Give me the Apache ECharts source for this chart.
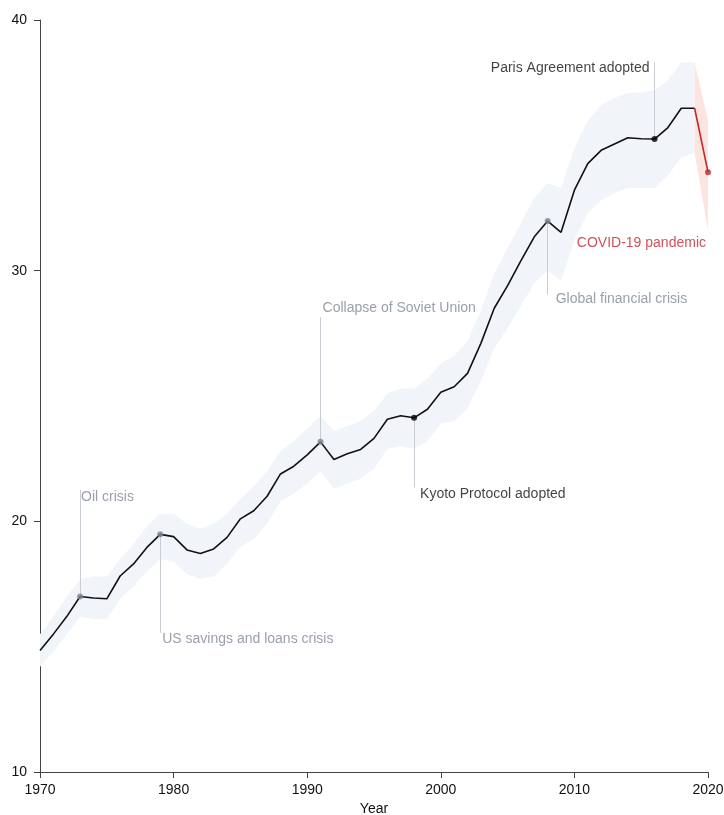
<!DOCTYPE html>
<html>
<head>
<meta charset="utf-8">
<script src="https://cdn.jsdelivr.net/npm/echarts@6/dist/echarts.min.js"></script>
<style>
  html, body { margin: 0; padding: 0; background: #fff; }
  #chart { width: 724px; height: 815px; }
</style>
</head>
<body>
<div id="chart"></div>
<script>
// years on the x axis
const years = [1970, 1971, 1972, 1973, 1974, 1975, 1976, 1977, 1978, 1979,
  1980, 1981, 1982, 1983, 1984, 1985, 1986, 1987, 1988, 1989,
  1990, 1991, 1992, 1993, 1994, 1995, 1996, 1997, 1998, 1999,
  2000, 2001, 2002, 2003, 2004, 2005, 2006, 2007, 2008, 2009,
  2010, 2011, 2012, 2013, 2014, 2015, 2016, 2017, 2018, 2019];
// central estimate
const emissions = [14.85, 15.5, 16.2, 17.0, 16.94, 16.91, 17.82, 18.3, 18.96, 19.48,
  19.39, 18.86, 18.72, 18.9, 19.36, 20.1, 20.42, 21.0, 21.89, 22.2,
  22.65, 23.17, 22.47, 22.7, 22.87, 23.31, 24.07, 24.21, 24.13, 24.47,
  25.15, 25.37, 25.9, 27.1, 28.5, 29.4, 30.4, 31.35, 31.98, 31.53,
  33.21, 34.27, 34.8, 35.05, 35.3, 35.26, 35.25, 35.71, 36.48, 36.48];
// uncertainty band
const lower = [14.2, 14.8, 15.5, 16.2, 16.1, 16.1, 16.9, 17.4, 18.0, 18.5,
  18.4, 17.9, 17.7, 17.8, 18.3, 19.0, 19.3, 19.9, 20.8, 21.1,
  21.5, 22.0, 21.3, 21.5, 21.7, 22.1, 22.9, 23.0, 22.9, 23.2,
  23.9, 24.0, 24.5, 25.6, 26.9, 27.7, 28.6, 29.5, 30.0, 29.6,
  31.2, 32.3, 32.8, 33.1, 33.3, 33.3, 33.3, 33.8, 34.5, 34.7];
const upper = [15.5, 16.2, 17.0, 17.7, 17.8, 17.8, 18.5, 19.1, 19.8, 20.3,
  20.3, 19.9, 19.7, 19.9, 20.3, 20.9, 21.4, 22.0, 22.8, 23.2,
  23.7, 24.2, 23.6, 23.8, 24.0, 24.4, 25.1, 25.3, 25.3, 25.7,
  26.3, 26.6, 27.2, 28.4, 29.9, 30.9, 31.9, 32.9, 33.5, 33.3,
  34.9, 36.0, 36.6, 36.9, 37.1, 37.1, 37.2, 37.6, 38.3, 38.3];
// 2020 projection
const covidYears = [2019, 2020];
const covidValues = [36.48, 33.93];
const covidLower = [34.7, 31.6];
const covidUpper = [38.3, 36.0];

const xTicks = [1970, 1980, 1990, 2000, 2010, 2020];
const yTicks = [10, 20, 30, 40];

const GRAY = '#7f8896';
const BLACK = '#111111';
const RED = '#c1272d';

// annotations: line end and label anchor are given in data units
const events = [
  { year: 1973, text: 'Oil crisis', color: GRAY, dot: '#7a8593', lineEnd: 21.25, labelY: 20.97, side: 'right', dist: 1 },
  { year: 1979, text: 'US savings and loans crisis', color: GRAY, dot: '#7a8593', lineEnd: 15.55, labelY: 15.3, side: 'right', dist: 2 },
  { year: 1991, text: 'Collapse of Soviet Union', color: GRAY, dot: '#7a8593', lineEnd: 28.15, labelY: 28.5, side: 'right', dist: 2 },
  { year: 1998, text: 'Kyoto Protocol adopted', color: BLACK, dot: '#000', lineEnd: 21.35, labelY: 21.1, side: 'right', dist: 6 },
  { year: 2008, text: 'Global financial crisis', color: GRAY, dot: '#7a8593', lineEnd: 29.05, labelY: 28.85, side: 'right', dist: 8 },
  { year: 2016, text: 'Paris Agreement adopted', color: BLACK, dot: '#000', lineEnd: 38.3, labelY: 38.07, side: 'left', dist: 5 }
];

const valueAt = y => emissions[years.indexOf(y)];
const pairs = (xs, ys) => xs.map((x, i) => [x, ys[i]]);

const chart = echarts.init(document.getElementById('chart'), null, { renderer: 'canvas' });

const font = 'Liberation Sans, Arial, sans-serif';

// band polygon drawn through the cartesian scales
function bandSeries(xs, lo, hi, fill) {
  return {
    type: 'custom', silent: true, z: 1, clip: false,
    data: [[xs[0], lo[0]]],
    renderItem: function (params, api) {
      const top = xs.map((x, i) => api.coord([x, hi[i]]));
      const bottom = xs.map((x, i) => api.coord([x, lo[i]])).reverse();
      return {
        type: 'polygon',
        shape: { points: top.concat(bottom) },
        style: { fill: fill, stroke: null }
      };
    }
  };
}

const option = {
  animation: false,
  textStyle: { fontFamily: font },
  grid: { left: 40, right: 16, top: 20, bottom: 43, containLabel: false, outerBoundsMode: 'none' },
  xAxis: {
    type: 'value',
    min: 1970, max: 2020, interval: 10,
    name: 'Year', nameLocation: 'middle', nameGap: 29,
    nameTextStyle: { fontSize: 14, color: '#111', fontFamily: font },
    axisLine: { show: true, lineStyle: { color: '#444', width: 1 } },
    axisTick: { show: true, length: 6, lineStyle: { color: '#444' } },
    axisLabel: { fontSize: 14, color: '#111', margin: 11, hideOverlap: false, formatter: v => xTicks.includes(v) ? String(v) : '' },
    splitLine: { show: false }
  },
  yAxis: {
    type: 'value',
    min: 10, max: 40, interval: 10,
    axisLine: { show: true, lineStyle: { color: '#444', width: 1 } },
    axisTick: { show: true, length: 6, lineStyle: { color: '#444' } },
    axisLabel: { fontSize: 14, color: '#111', margin: 13, formatter: v => yTicks.includes(v) ? String(v) : '' },
    splitLine: { show: false }
  },
  series: [
    bandSeries(years, lower, upper, '#f1f5fa'),
    bandSeries(covidYears, covidLower, covidUpper, '#fce5df'),
    {
      type: 'line', symbol: 'none', z: 5,
      data: pairs(years, emissions),
      lineStyle: { color: '#111', width: 1.6 },
      markLine: {
        silent: true, symbol: 'none',
        label: { show: false },
        lineStyle: { color: '#c9cdd3', width: 1, type: 'solid' },
        data: events.map(e => [
          { coord: [e.year, valueAt(e.year)] },
          { coord: [e.year, e.lineEnd] }
        ])
      }
    },
    {
      type: 'line', symbol: 'none', z: 5,
      data: pairs(covidYears, covidValues),
      lineStyle: { color: RED, width: 1.6 }
    },
    {
      type: 'scatter', z: 6, symbolSize: 6,
      data: events.map(e => ({ value: [e.year, valueAt(e.year)], itemStyle: { color: e.dot } }))
        .concat([{ value: [covidYears[1], covidValues[1]], itemStyle: { color: RED } }])
    },
    {
      type: 'scatter', z: 7, symbolSize: 0, silent: true,
      data: events.map(e => ({
        value: [e.year, e.labelY],
        label: { show: true, position: e.side, distance: e.dist, formatter: e.text, color: e.color, fontSize: 14, fontFamily: font }
      })).concat([{
        value: [covidYears[1], 31.1],
        label: { show: true, position: 'left', distance: 2, formatter: 'COVID-19 pandemic', color: RED, fontSize: 14, fontFamily: font }
      }])
    }
  ]
};

chart.setOption(option);
</script>
</body>
</html>
